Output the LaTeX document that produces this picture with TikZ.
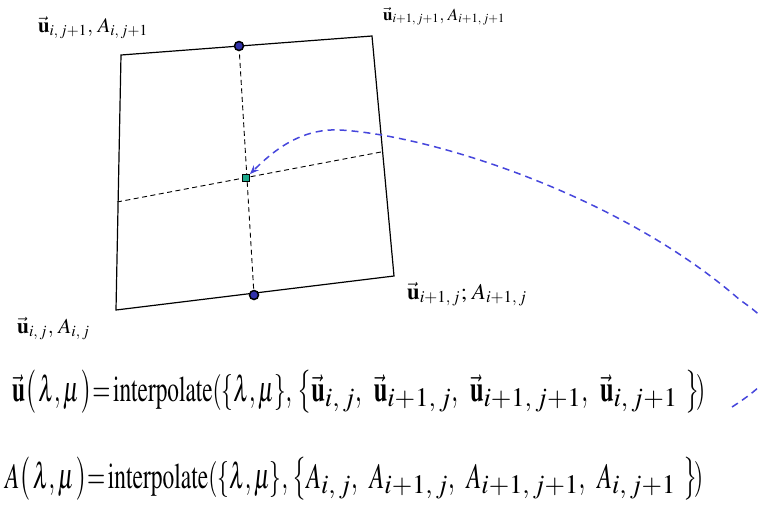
\documentclass[tikz,border=0pt]{standalone}
\usepackage{mathptmx}
\usepackage{fontspec}
\setmainfont{Liberation Serif}
\usepackage{graphicx}
\usetikzlibrary{arrows.meta}
\definecolor{dotblue}{RGB}{50,50,170}
\definecolor{sqteal}{RGB}{30,170,140}
\definecolor{curveblue}{RGB}{70,70,220}
\newcommand{\vu}{\vec{\mathbf{u}}}
\newcommand{\bigfont}{\fontsize{36pt}{40pt}\selectfont}
\newcommand{\cx}[1]{\mathord{\scalebox{0.68}[1]{$\displaystyle #1$}}}
\tikzset{
 quad/.style={line width=1.2pt, draw=black, line join=miter},
 dline/.style={dash pattern=on 5pt off 3.5pt, line width=0.9pt, draw=black},
 bluecurve/.style={draw=curveblue, line width=1.5pt, dash pattern=on 7pt off 5pt, -{Stealth[length=9pt,width=7pt]}},
 dot/.style={circle, fill=dotblue, draw=black, line width=1.5pt, inner sep=0pt, minimum size=9pt},
 sq/.style={rectangle, fill=sqteal, draw=black, line width=0.8pt, inner sep=0pt, minimum size=7pt},
 lbl/.style={inner sep=0pt, anchor=base west},
}
\begin{document}
\begin{tikzpicture}[x=1pt,y=-1pt]
\clip (0,0) rectangle (760,507);
\coordinate (c00) at (116,310);
\coordinate (c10) at (394,276);
\coordinate (c11) at (372,36);
\coordinate (c01) at (121,55);
\coordinate (ptop) at (239,46);
\coordinate (pbot) at (254,295);
\coordinate (pctr) at (246,178);
\coordinate (hl) at (117,202);
\coordinate (hr) at (381,152);
\coordinate (cstart) at (732,407);
\coordinate (cturn) at (778,350);
\coordinate (cmid) at (740,300);
\coordinate (cpeak) at (340,130);
\draw[quad] (c00) -- (c10) -- (c11) -- (c01) -- cycle;
\draw[dline] (ptop) -- (pbot);
\draw[dline] (hl) -- (hr);
\node[dot] (top) at (ptop) {};
\node[dot] (bot) at (pbot) {};
\node[sq] (ctr) at (pctr) {};
\draw[bluecurve] (cstart) .. controls (755,392) and (778,375) .. (cturn)
  .. controls (778,330) and (762,315) .. (cmid)
  .. controls (620,195) and (430,135) .. (cpeak)
  .. controls (300,128) and (272,152) .. (ctr.north east);
\node[lbl] (l01) at (38,32) {\resizebox{110pt}{!}{$\vu_{i,\,j+1},\,A_{i,\,j+1}$}};
\node[lbl] (l11) at (383,20) {\resizebox{122pt}{!}{$\vu_{i+1,\,j+1},\,A_{i+1,\,j+1}$}};
\node[lbl] (l10) at (407,299) {\resizebox{120pt}{!}{$\vu_{i+1,\,j};\,A_{i+1,\,j}$}};
\node[lbl] (l00) at (17,333) {\resizebox{73pt}{!}{$\vu_{i,\,j},\,A_{i,\,j}$}};
\node[lbl] (f1a) at (12,401) {\bigfont\resizebox{280pt}{\height}{$\vu\big(\,\lambda,\mu\,\big){=}\,\mathrm{interpolate}(\{\lambda,\mu\},$}};
\node[lbl] (f1b) at (297,401) {\bigfont\resizebox{408pt}{\height}{$\cx{\big\{}\cx{\vu}_{i,\,j}\cx{,}\;\,\cx{\vu}_{i+1,\,j}\cx{,}\;\,\cx{\vu}_{i+1,\,j+1}\cx{,}\;\,\cx{\vu}_{i,\,j+1}\;\cx{\big\}}\!\cx{)}$}};
\node[lbl] (f2a) at (5,488) {\bigfont\resizebox{283pt}{\height}{$A\big(\,\lambda,\mu\,\big){=}\,\mathrm{interpolate}(\{\lambda,\mu\},$}};
\node[lbl] (f2b) at (292,488) {\bigfont\resizebox{411pt}{\height}{$\cx{\big\{}\cx{A}_{i,\,j}\cx{,}\;\,\cx{A}_{i+1,\,j}\cx{,}\;\,\cx{A}_{i+1,\,j+1}\cx{,}\;\,\cx{A}_{i,\,j+1}\;\cx{\big\}}\!\cx{)}$}};
\end{tikzpicture}
\end{document}
